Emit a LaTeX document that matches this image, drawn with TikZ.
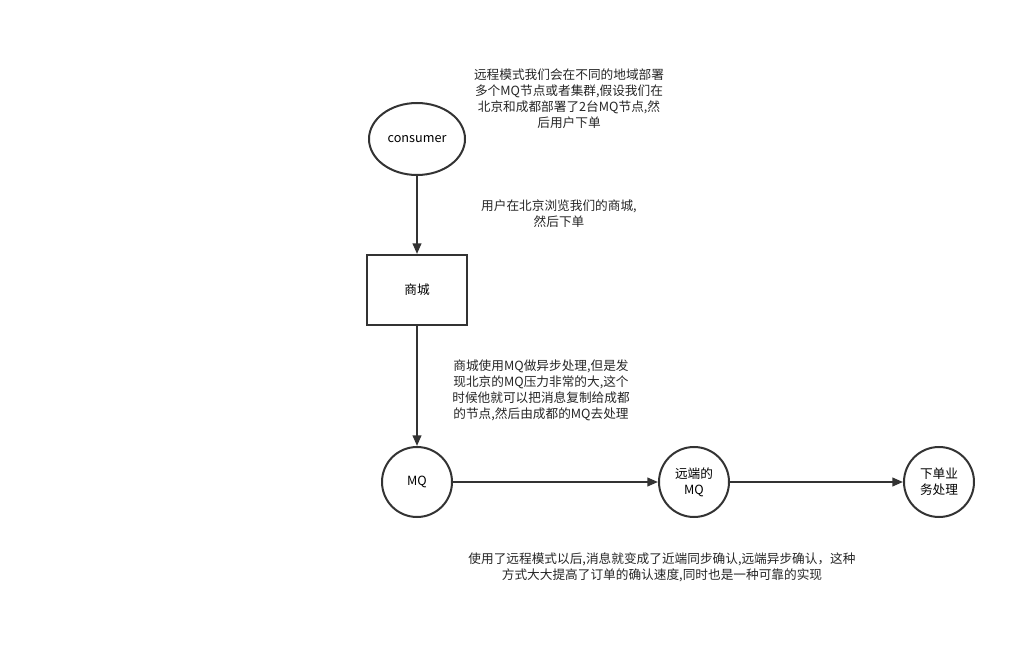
\documentclass[tikz,border=0pt]{standalone}
\usepackage{fontspec}
\setmainfont{Noto Sans CJK SC}
\usetikzlibrary{shapes,arrows.meta,positioning,calc}

\tikzset{
  flowline/.style={line width=1.5pt, draw=black!80, -{Triangle[length=8pt,width=6.5pt]}},
  ovalnode/.style={ellipse, draw=black!80, line width=1.5pt, minimum width=72pt, minimum height=54pt},
  roundnode/.style={circle, draw=black!80, line width=1.5pt, minimum size=52.5pt, inner sep=0pt, align=center},
  boxnode/.style={rectangle, draw=black!80, line width=1.5pt, minimum width=75pt, minimum height=52.5pt},
  note/.style={align=center, font=\fontsize{9.5}{12}\selectfont, text=black!85}
}

\begin{document}
\begin{tikzpicture}[x=0.75pt,y=-0.75pt, font=\fontsize{9.5}{12}\selectfont]
    \useasboundingbox (0,0) rectangle (1036,659);

    % main chain
    \node[ovalnode] (consumer) at (417,139) {consumer};
    \node[boxnode] (mall) at (417,290) {商城};
    \node[roundnode] (mq) at (417,482) {MQ};
    \node[roundnode] (remote) at (694,482) {远端的\\MQ};
    \node[roundnode] (order) at (939,482) {下单业\\务处理};

    \draw[flowline] (consumer) -- (mall);
    \draw[flowline] (mall) -- (mq);
    \draw[flowline] (mq) -- (remote);
    \draw[flowline] (remote) -- (order);

    % notes
    \node[note] (note1) at (569,99) {远程模式我们会在不同的地域部署\\多个MQ节点或者集群,假设我们在\\北京和成都部署了2台MQ节点,然\\后用户下单};
    \node[note] (note2) at (559,214) {用户在北京浏览我们的商城,\\然后下单};
    \node[note] (note3) at (541,390) {商城使用MQ做异步处理,但是发\\现北京的MQ压力非常的大,这个\\时候他就可以把消息复制给成都\\的节点,然后由成都的MQ去处理};
    \node[note] (note4) at (662,567) {使用了远程模式以后,消息就变成了近端同步确认,远端异步确认，这种\\方式大大提高了订单的确认速度,同时也是一种可靠的实现};
\end{tikzpicture}
\end{document}
